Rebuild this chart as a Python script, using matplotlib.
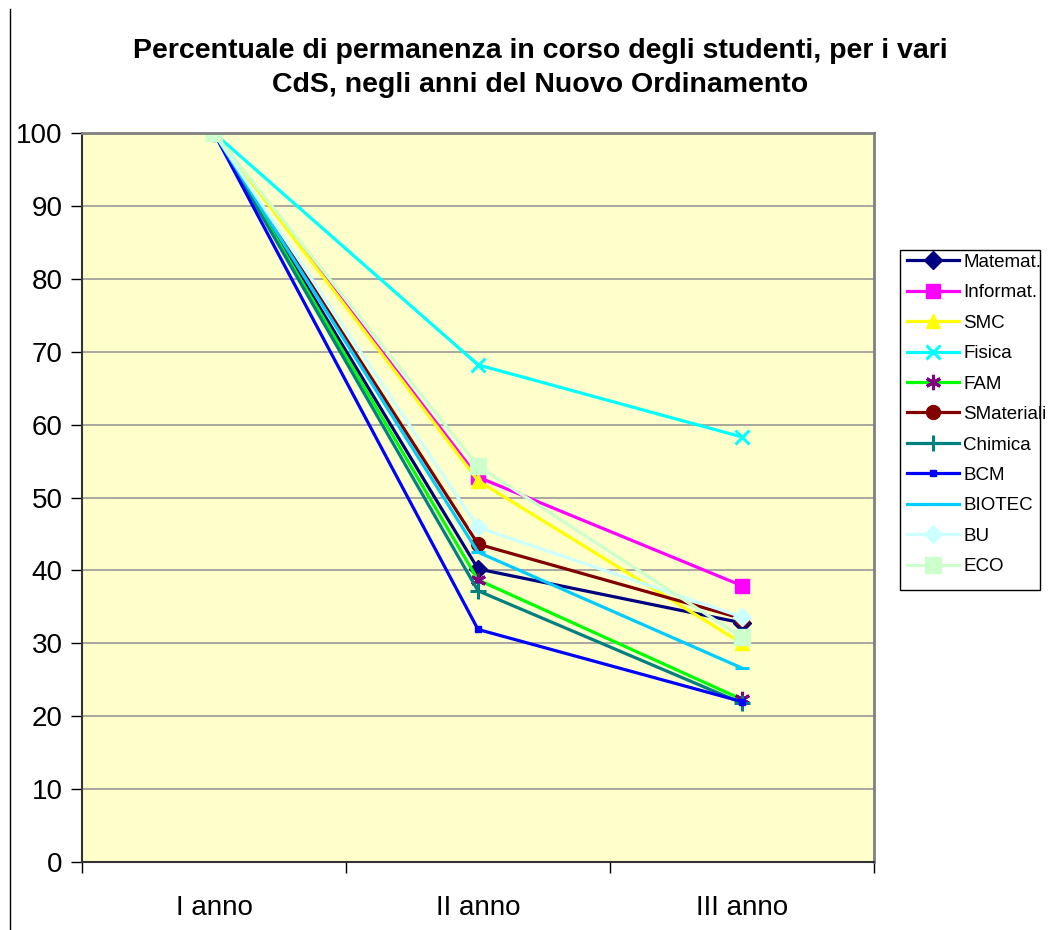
import matplotlib.pyplot as plt
from matplotlib.lines import Line2D
from matplotlib.patches import Rectangle

plt.rcParams['font.family'] = ['Liberation Sans', 'DejaVu Sans']

# anni di corso
anni = ['I anno', 'II anno', 'III anno']

# percentuale di permanenza per CdS
matemat = [100, 40.2, 32.8]
informat = [100, 52.8, 37.9]
smc = [100, 52.3, 30.0]
fisica = [100, 68.2, 58.3]
fam = [100, 38.7, 22.3]
smateriali = [100, 43.6, 33.4]
chimica = [100, 37.2, 21.8]
bcm = [100, 31.9, 22.0]
biotec = [100, 42.5, 26.6]
bu = [100, 45.9, 33.6]
eco = [100, 54.3, 30.8]

nomi = ['Matemat.', 'Informat.', 'SMC', 'Fisica', 'FAM', 'SMateriali',
        'Chimica', 'BCM', 'BIOTEC', 'BU', 'ECO']
serie = [matemat, informat, smc, fisica, fam, smateriali,
         chimica, bcm, biotec, bu, eco]

# stile: colore linea, marker, colore marker, dimensione marker
stili = [
    ('#000080', 'D', '#000080', 9),
    ('#FF00FF', 's', '#FF00FF', 10),
    ('#FFFF00', '^', '#FFFF00', 10),
    ('#00FFFF', 'x', '#00FFFF', 10),
    ('#00FF00', (6, 2, 0), '#800080', 11),
    ('#800000', 'o', '#800000', 10),
    ('#008080', '+', '#008080', 11),
    ('#0000FF', 's', '#0000FF', 4),
    ('#00CCFF', '_', '#00CCFF', 10),
    ('#CCFFFF', 'D', '#CCFFFF', 9),
    ('#CCFFCC', 's', '#CCFFCC', 11),
]

fig = plt.figure(figsize=(10.57, 9.3), dpi=100)
ax = fig.add_axes([0.0776, 0.0731, 0.7493, 0.7839])
ax.set_facecolor('#FFFFCC')

x = [0.5, 1.5, 2.5]
for nome, val, (col, mk, mcol, ms) in zip(nomi, serie, stili):
    mew = 2.2 if mk in ('x', '+', '_', (6, 2, 0)) else 1
    ax.plot(x, val, color=col, lw=2.3, marker=mk, markersize=ms,
            markerfacecolor=mcol, markeredgecolor=mcol, markeredgewidth=mew,
            label=nome, solid_joinstyle='miter')

ax.set_xlim(0, 3)
ax.set_ylim(0, 100)
ax.set_yticks(range(0, 101, 10))
ax.set_xticks([0, 1, 2, 3])
ax.set_xticklabels([])
ax.set_xticks(x, minor=True)
ax.set_xticklabels(anni, minor=True)
ax.tick_params(axis='x', which='minor', length=0, labelsize=20, pad=24)
ax.tick_params(axis='x', which='major', length=8, width=1, color='black')
ax.tick_params(axis='y', length=8, width=1, labelsize=20, pad=6)
ax.yaxis.grid(True, color='#999999', lw=1.2)
ax.set_axisbelow(True)
for s in ['top', 'right']:
    ax.spines[s].set_color('#808080')
    ax.spines[s].set_linewidth(2)
for s in ['left', 'bottom']:
    ax.spines[s].set_color('#333333')
    ax.spines[s].set_linewidth(1.5)

# legenda: riquadro disegnato a parte, il testo sborda come nell'originale
leg = ax.legend(loc='upper left', bbox_to_anchor=(903 / 1057, 1 - 250 / 930),
                bbox_transform=fig.transFigure, fontsize=13.5, frameon=False,
                handlelength=2.8, labelspacing=0.71, borderpad=0.2,
                handletextpad=0.22, borderaxespad=0)
fig.add_artist(Rectangle((900 / 1057, 1 - 590 / 930), 140 / 1057, 340 / 930,
                         transform=fig.transFigure, fill=False,
                         edgecolor='black', lw=1))

fig.text(0.511, 0.927, 'Percentuale di permanenza in corso degli studenti, per i vari\nCdS, negli anni del Nuovo Ordinamento',
         ha='center', va='center', fontsize=20.5, fontweight='bold', linespacing=1.4)

fig.add_artist(Line2D([10 / 1057, 10 / 1057], [0, 0.99], color='black', lw=1))

fig.savefig('out.png', dpi=100)
